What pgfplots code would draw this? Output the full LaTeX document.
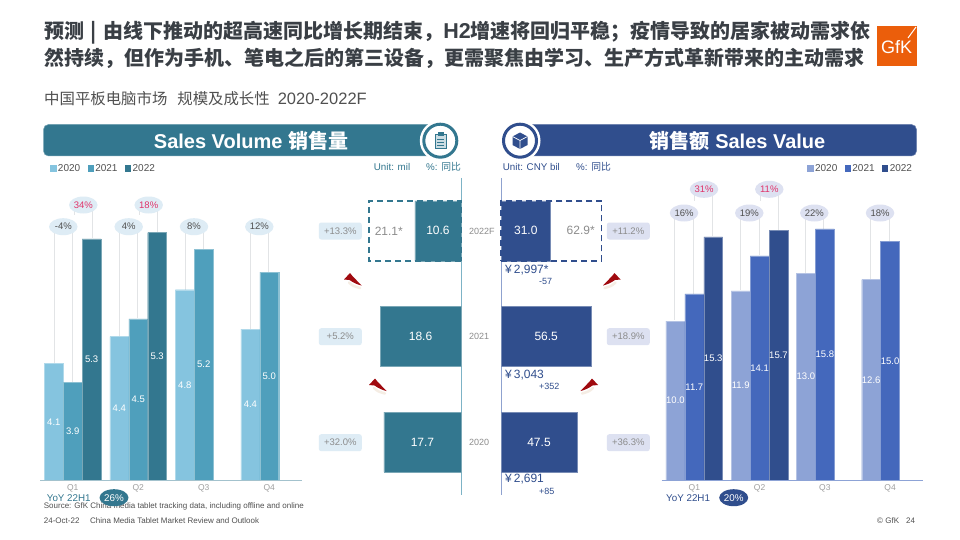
\documentclass[border=0pt]{standalone}
\usepackage{fontspec}
\usepackage{pgfplots}
\pgfplotsset{compat=1.18}
\setmainfont{Liberation Sans}
\newfontfamily\cjk{Noto Sans CJK SC}
\newcommand\myfs[1]{\fontsize{#1}{#1}\selectfont}
\definecolor{tD}{HTML}{33778F}\definecolor{tM}{HTML}{4F9FBC}\definecolor{tL}{HTML}{85C4DF}
\definecolor{bD}{HTML}{304E8D}\definecolor{bM}{HTML}{4468BC}\definecolor{bL}{HTML}{8DA3D6}
\definecolor{eT}{HTML}{DEECF5}\definecolor{eB}{HTML}{DDE1F1}
\definecolor{pk}{HTML}{E0336A}\definecolor{txt}{HTML}{505050}\definecolor{tit}{HTML}{3A3F45}
\definecolor{gr}{HTML}{8C8C8C}\definecolor{ld}{HTML}{E2E4E6}\definecolor{rd}{HTML}{A00A0F}
\definecolor{logo}{HTML}{EB5E0B}\definecolor{vT}{HTML}{7DB3C6}\definecolor{vB}{HTML}{8FA2CF}
\newcommand\myleader[3]{\draw[ld,line width=1pt] (#1,#2)--(#1,#3);}
\newcommand\myoval[5]{\node[ellipse,fill=#1,minimum width=28.5pt,minimum height=17pt,inner sep=0pt,text=#2,font=\myfs{9.5}] at (#3,#4) {#5};}
\newcommand\mypill[4]{\node[fill=#1,rounded corners=2.5pt,minimum width=43pt,minimum height=17pt,inner sep=0pt,text=gr,font=\myfs{9.5}] at (#2,#3) {#4};}
% red arrow, tip side at left; #1,#2 = top-left of its box, #3 = xscale
\newcommand\redarrow[3]{\begin{scope}[shift={(#1,#2)},xscale=#3]
 \draw[line width=2.5pt,line cap=round,draw=brown!40,opacity=.35] (5,9.5) .. controls (9,13) .. (16,15);
 \fill[rd] (6,0) -- (0,6.5) -- (5.5,7) .. controls (9,9.5) and (13,11.5) .. (17.5,12.5) .. controls (14,8.5) and (10,5) .. (8,2.5) -- cycle;
\end{scope}}
\pgfplotsset{
 qbar/.style={scale only axis,clip=false,anchor=south west,width=262pt,height=300pt,
  ybar=0pt,bar width=18.9pt,xmin=-0.5,xmax=3.5,axis y line=none,axis x line*=bottom,
  axis line style={draw=none},
  xtick={0,1,2,3},xticklabels={Q1,Q2,Q3,Q4},major tick length=0pt,
  xticklabel style={text=gray!75,font=\myfs{8.5},yshift=-2.5pt,inner sep=2pt},
  nodes near coords,point meta=explicit symbolic,visualization depends on=rawy \as \rawy,
  legend columns=3,legend cell align=left,
  legend style={draw=none,fill=none,font=\myfs{10},text=txt,anchor=west,inner sep=0pt,
    /tikz/every even column/.append style={column sep=5.3pt}}},
 bb/.style={draw=#1!65!white,line width=.4pt,fill=#1,
   legend image code/.code={\fill[#1] (0pt,-2.6pt) rectangle (5.4pt,2.8pt);}},
 hbar/.style={scale only axis,clip=false,anchor=south west,height=317pt,
  xbar,bar shift=0pt,bar width=60pt,ymin=-0.5,ymax=2.5,hide axis,
  visualization depends on=rawx \as \rawx,
  /pgf/number format/assume math mode=true,/pgf/number format/fixed,/pgf/number format/fixed zerofill,/pgf/number format/precision=1}
}
\usetikzlibrary{shapes.geometric}
\begin{document}
\begin{tikzpicture}[x=1pt,y=-1pt]
\path[use as bounding box,fill=white] (0,0) rectangle (960,540);
% title
\node[anchor=west,inner sep=0pt,text=tit,font=\myfs{20}\cjk\bfseries] at (44,33) {预测\hspace{6.5pt}|\hspace{6.5pt}由线下推动的超高速同比增长期结束，{\fontspec{Liberation Sans}\bfseries\myfs{21.5}H2}增速将回归平稳；疫情导致的居家被动需求依};
\node[anchor=west,inner sep=0pt,text=tit,font=\myfs{20}\cjk\bfseries] at (44,58) {然持续，但作为手机、笔电之后的第三设备，更需聚焦由学习、生产方式革新带来的主动需求};
\node[anchor=west,inner sep=0pt,text=txt,font=\myfs{16.5}] at (44,98.3) {{\cjk\myfs{15.4}中国平板电脑市场}\hspace{10pt}{\cjk\myfs{15.4}规模及成长性}\hspace{8pt}2020-2022F};
% logo
\fill[logo] (877,26) rectangle (916.7,65.7);
\node[text=white,font=\myfs{18},inner sep=0pt] at (896.5,47) {GfK};
\draw[white,line width=1pt] (916,27)--(908,38);
% headers
\draw[tD!70!white,fill=tD,line width=.5pt,rounded corners=5pt] (43.5,124.5) rectangle (445,156);
\draw[bD!70!white,fill=bD,line width=.5pt,rounded corners=5pt] (518,124.5) rectangle (916.5,156);
\node[text=white,inner sep=0pt,font=\myfs{20}\bfseries] at (251,141) {Sales Volume {\cjk\bfseries 销售量}};
\node[text=white,inner sep=0pt,font=\myfs{20}\bfseries] at (737.5,141) {{\cjk\bfseries 销售额} Sales Value};
\fill[white] (440.3,140.7) circle (20.5);
\draw[tD,line width=3pt,fill=white] (440.3,140.7) circle (16.5);
\fill[white] (520,140.7) circle (20.5);
\draw[bD,line width=3pt,fill=white] (520,140.7) circle (16.5);
\draw[tD,line width=1pt,fill=tD!25!white] (435,134.5) rectangle (446,149);
\fill[tD] (437.5,132.5) rectangle (443.5,136);
\draw[tD,line width=.7pt] (437,139)--(444,139) (437,142)--(444,142) (437,145)--(444,145);
\fill[bD] (520,132.5)--(527.5,136.5)--(527.5,145)--(520,149)--(512.5,145)--(512.5,136.5)--cycle;
\draw[white,line width=.7pt] (512.5,136.5)--(520,140.5)--(527.5,136.5) (520,140.5)--(520,149);
% units
\node[anchor=west,inner sep=0pt,text=tD,font=\myfs{9.8}] at (373.7,166.7) {Unit: mil};
\node[anchor=west,inner sep=0pt,text=tD,font=\myfs{9.8}] at (426,166.7) {\%: {\cjk 同比}};
\node[anchor=west,inner sep=0pt,text=bD,font=\myfs{9.8}] at (502.7,166.7) {Unit: CNY bil};
\node[anchor=west,inner sep=0pt,text=bD,font=\myfs{9.8}] at (576,166.7) {\%: {\cjk 同比}};
% leader lines
\myleader{54}{226}{364}\myleader{72.5}{226}{382}\myleader{74.3}{205}{215}\myleader{92.3}{205}{238}
\myleader{119.5}{226}{336}\myleader{137.5}{226}{318}\myleader{139.3}{205}{215}\myleader{157.6}{205}{232}
\myleader{185}{226}{290}\myleader{203}{226}{249}
\myleader{250.3}{226}{329}\myleader{268.5}{226}{272}
\myleader{674.7}{213}{320}\myleader{693.3}{213}{294}\myleader{694.5}{189}{201}\myleader{712.7}{189}{236}
\myleader{740.3}{213}{290}\myleader{759}{213}{255}\myleader{760.3}{189}{201}\myleader{778.3}{189}{230}
\myleader{805.7}{213}{274}\myleader{823.3}{213}{229}
\myleader{870.3}{213}{279}\myleader{889}{213}{242}
% centre vertical axis lines
\draw[vT,line width=1pt] (461,178)--(461,495);
\draw[vB,line width=1pt] (501,178)--(501,495);
% year labels
\node[anchor=west,inner sep=0pt,text=gr,font=\myfs{9}] at (469,231) {2022F};
\node[anchor=west,inner sep=0pt,text=gr,font=\myfs{9}] at (469,336.7) {2021};
\node[anchor=west,inner sep=0pt,text=gr,font=\myfs{9}] at (469,442.3) {2020};
% left bars
\begin{axis}[qbar,at={(40pt,-480pt)},ymin=2.98,ymax=5.865,
 every node near coord/.append style={anchor=center,inner sep=0pt,text=white,font=\myfs{9.5},yshift={-(\rawy-2.98)*52pt}},
 legend style={at={(0.038,1.039)}}]
\addplot[bb=tL] coordinates {(0,4.10)[4.1] (1,4.36)[4.4] (2,4.81)[4.8] (3,4.43)[4.4]};
\addplot[bb=tM] coordinates {(0,3.92)[3.9] (1,4.53)[4.5] (2,5.20)[5.2] (3,4.98)[5.0]};
\addplot[bb=tD] coordinates {(0,5.30)[5.3] (1,5.36)[5.3]};
\legend{2020,2021,2022}
\draw[tD!45!white,line width=.8pt] (axis cs:-0.5,2.98)--(axis cs:3.5,2.98);
\end{axis}
% right bars
\begin{axis}[qbar,at={(661.7pt,-480pt)},ymin=0,ymax=18.87,width=261pt,bar width=18.9pt,
 every node near coord/.append style={anchor=center,inner sep=0pt,text=white,font=\myfs{9.5},yshift={-\rawy*7.95pt}},
 legend style={at={(0.557,1.039)}}]
\addplot[bb=bL] coordinates {(0,10.0)[10.0] (1,11.9)[11.9] (2,13.0)[13.0] (3,12.6)[12.6]};
\addplot[bb=bM] coordinates {(0,11.7)[11.7] (1,14.1)[14.1] (2,15.8)[15.8] (3,15.0)[15.0]};
\addplot[bb=bD] coordinates {(0,15.3)[15.3] (1,15.7)[15.7]};
\legend{2020,2021,2022}
\draw[bL,line width=.8pt] (axis cs:-0.5,0)--(axis cs:3.5,0);
\end{axis}
% centre left
\begin{axis}[hbar,at={(330pt,-495pt)},width=131pt,x dir=reverse,xmin=0,xmax=30.11]
\addplot[fill=white,draw=tD,line width=1.6pt,dash pattern=on 6pt off 4pt] coordinates {(21.1,2)};
\addplot[fill=tD,draw=tD!65!white,line width=.4pt,nodes near coords,
 every node near coord/.append style={anchor=center,inner sep=0pt,text=white,font=\myfs{12},xshift={\rawx*2.175pt}}]
 coordinates {(10.6,2) (18.6,1) (17.7,0)};
\addplot[fill=none,draw=tD,line width=1.6pt,dash pattern=on 6pt off 4pt] coordinates {(21.1,2)};
\node[text=gr,font=\myfs{12},inner sep=0pt] at (axis cs:16.6,2) {21.1*};
\end{axis}
% centre right
\begin{axis}[hbar,at={(501pt,-495pt)},width=120pt,xmin=0,xmax=75]
\addplot[fill=white,draw=bD,line width=1.6pt,dash pattern=on 6pt off 4pt] coordinates {(62.9,2)};
\addplot[fill=bD,draw=bD!65!white,line width=.4pt,nodes near coords,
 every node near coord/.append style={anchor=center,inner sep=0pt,text=white,font=\myfs{12},xshift={-\rawx*0.8pt}}]
 coordinates {(31.0,2) (56.5,1) (47.5,0)};
\addplot[fill=none,draw=bD,line width=1.6pt,dash pattern=on 6pt off 4pt] coordinates {(62.9,2)};
\node[text=gr,font=\myfs{12},inner sep=0pt] at (axis cs:49.8,2) {62.9*};
\end{axis}
% ellipses
\myoval{eT}{txt}{63.3}{226.7}{-4\%}\myoval{eT}{pk}{83.3}{205}{34\%}
\myoval{eT}{txt}{128.7}{226.7}{4\%}\myoval{eT}{pk}{148.7}{205}{18\%}
\myoval{eT}{txt}{194}{226.7}{8\%}\myoval{eT}{txt}{259.3}{226.7}{12\%}
\myoval{eB}{txt}{684}{213}{16\%}\myoval{eB}{pk}{704}{189.3}{31\%}
\myoval{eB}{txt}{749.3}{213}{19\%}\myoval{eB}{pk}{769.3}{189.3}{11\%}
\myoval{eB}{txt}{814.3}{213}{22\%}\myoval{eB}{txt}{880}{213}{18\%}
% pills
\mypill{eT}{340.3}{231}{+13.3\%}\mypill{eT}{340.3}{336.7}{+5.2\%}\mypill{eT}{340.3}{442.7}{+32.0\%}
\mypill{eB}{628.3}{231}{+11.2\%}\mypill{eB}{628.3}{336.7}{+18.9\%}\mypill{eB}{628.3}{442.7}{+36.3\%}
% arrows
\redarrow{344}{273}{1}\redarrow{369}{378.5}{1}
\redarrow{620.5}{273}{-1}\redarrow{598}{378.5}{-1}
% price labels
\node[anchor=west,inner sep=0pt,text=bD,font=\myfs{12}] at (505,270.3) {¥\,2,997*};
\node[anchor=west,inner sep=0pt,text=bD,font=\myfs{9}] at (539,281) {-57};
\node[anchor=west,inner sep=0pt,text=bD,font=\myfs{12}] at (505,374.7) {¥\,3,043};
\node[anchor=west,inner sep=0pt,text=bD,font=\myfs{9}] at (539,386.3) {+352};
\node[anchor=west,inner sep=0pt,text=bD,font=\myfs{12}] at (505,479) {¥\,2,691};
\node[anchor=west,inner sep=0pt,text=bD,font=\myfs{9}] at (539,491) {+85};
% footer
\node[anchor=west,inner sep=0pt,text=txt,font=\myfs{8}] at (43.7,506.5) {Source: GfK China media tablet tracking data, including offline and online};
\node[anchor=west,inner sep=0pt,text=txt,font=\myfs{8}] at (43.7,520.5) {24-Oct-22};
\node[anchor=west,inner sep=0pt,text=txt,font=\myfs{8}] at (90,520.5) {China Media Tablet Market Review and Outlook};
\node[anchor=west,inner sep=0pt,text=txt,font=\myfs{8}] at (877,520.5) {© GfK};
\node[anchor=west,inner sep=0pt,text=txt,font=\myfs{8}] at (906,520.5) {24};
\node[anchor=west,inner sep=0pt,text=tD,font=\myfs{9.8}] at (46.7,497.7) {YoY 22H1};
\node[ellipse,fill=tD,minimum width=29pt,minimum height=17pt,inner sep=0pt,text=white,font=\myfs{9.8}] at (114,497.7) {26\%};
\node[anchor=west,inner sep=0pt,text=bD,font=\myfs{9.8}] at (666,497.7) {YoY 22H1};
\node[ellipse,fill=bD,minimum width=29pt,minimum height=17pt,inner sep=0pt,text=white,font=\myfs{9.8}] at (733.7,497.7) {20\%};
\end{tikzpicture}
\end{document}
